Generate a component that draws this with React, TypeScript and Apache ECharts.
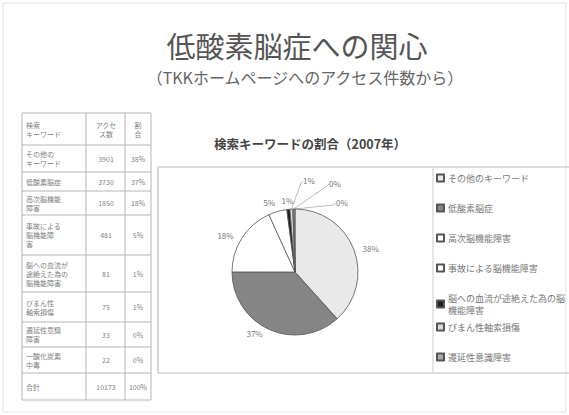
import React, { useEffect, useRef } from "react";
import * as echarts from "echarts";

// ---- data ----
const keywords = [
  "その他のキーワード",
  "低酸素脳症",
  "高次脳機能障害",
  "事故による脳機能障害",
  "脳への血流が途絶えた為の脳機能障害",
  "びまん性軸索損傷",
  "遷延性意識障害",
  "一酸化炭素中毒",
];
const accessCounts = [3901, 3730, 1850, 481, 81, 75, 33, 22];
const tableRowLabels = [
  "その他の\nキーワード",
  "低酸素脳症",
  "高次脳機能\n障害",
  "事故による\n脳機能障\n害",
  "脳への血流が\n途絶えた為の\n脳機能障害",
  "びまん性\n軸索損傷",
  "遷延性意識\n障害",
  "一酸化炭素\n中毒",
];
const tableHeader = ["検索\nキーワード", "アクセ\nス数", "割\n合"];
const totalLabel = "合計";
const sliceColors = ["#e9e9e9", "#858585", "#ffffff", "#ffffff", "#1e1e1e", "#dcdcdc", "#a8a8a8", "#c8c8c8"];

const FONT = '"Noto Sans CJK JP", "Noto Sans", sans-serif';

export default function App() {
  const ref = useRef<HTMLDivElement>(null);
  useEffect(() => {
    const chart = echarts.init(ref.current!, null, { renderer: "svg" });
    const total = accessCounts.reduce((a, b) => a + b, 0);
    const pct = (v: number) => Math.round((v / total) * 100) + "%";

    const CX = 295;
    const CY = 272;
    const R = 63;
    // mid angles of slices (clockwise from 12 o'clock), from the data
    const mids: number[] = [];
    let cum = 0;
    accessCounts.forEach((v) => {
      mids.push(((cum + v / 2) / total) * Math.PI * 2);
      cum += v;
    });
    // label offsets (relative to pie centre) for the tiny slices, placed to the upper right
    const smallLabelOffsets: Record<number, [number, number]> = {
      5: [14, -92],
      6: [40, -89],
      7: [47, -70],
    };

    // table geometry
    const rowLines = [113, 145, 172, 191, 215, 255, 292, 322, 347, 373, 400];
    const colLines = [22, 86, 125, 151];
    const colCenters = [0, 106, 138];
    const g: any[] = [];
    g.push({ type: "rect", shape: { x: 3, y: 3, width: 563, height: 409 }, style: { fill: "none", stroke: "#e2e2e2", lineWidth: 1 }, silent: true });
    rowLines.forEach((y) =>
      g.push({ type: "line", shape: { x1: colLines[0], y1: y, x2: colLines[3], y2: y }, style: { stroke: "#b5b5b5", lineWidth: 1 } })
    );
    colLines.forEach((x) =>
      g.push({ type: "line", shape: { x1: x, y1: rowLines[0], x2: x, y2: rowLines[rowLines.length - 1] }, style: { stroke: "#b5b5b5", lineWidth: 1 } })
    );
    const cellText = (txt: string, x: number, y: number, align: string) =>
      g.push({
        type: "text",
        x,
        y,
        style: { text: txt, fill: "#808080", font: `7px ${FONT}`, align, verticalAlign: "middle", lineHeight: 9 },
      });
    const rows = [
      [tableHeader[0], tableHeader[1], tableHeader[2]],
      ...tableRowLabels.map((l, i) => [l, String(accessCounts[i]), pct(accessCounts[i])]),
      [totalLabel, String(total), "100%"],
    ];
    rows.forEach((r, i) => {
      const cy = (rowLines[i] + rowLines[i + 1]) / 2;
      cellText(r[0], 26, cy, "left");
      cellText(r[1], colCenters[1], cy, "center");
      cellText(r[2], colCenters[2], cy, "center");
    });
    g.push({ type: "rect", shape: { x: 158, y: 167, width: 420, height: 206 }, style: { fill: "none", stroke: "#bbb", lineWidth: 1.2 } });
    g.push({ type: "line", shape: { x1: 433, y1: 167, x2: 433, y2: 373 }, style: { stroke: "#ccc", lineWidth: 1 } });

    const legendBase = {
      orient: "vertical",
      icon: "rect",
      itemWidth: 7,
      itemHeight: 7,
      itemGap: 20,
      padding: 0,
      left: 436,
      textStyle: { fontFamily: FONT, fontSize: 9, color: "#777", lineHeight: 10, padding: [0, 0, 0, -1] },
    };

    const data = keywords.map((name, i) => ({
      name,
      value: accessCounts[i],
      itemStyle: { color: sliceColors[i] },
      labelLine:
        i >= 5
          ? { show: true, length: 10, length2: 10, lineStyle: { color: "#aaa", width: 0.8 } }
          : { show: false, length: 4, length2: 0 },
    }));

    chart.setOption({
      animation: false,
      backgroundColor: "#fff",
      title: [
        {
          text: "低酸素脳症への関心",
          left: 297,
          top: 28,
          textAlign: "center",
          padding: 0,
          textStyle: { fontFamily: FONT, fontSize: 29, fontWeight: "normal", color: "#555", lineHeight: 34 },
        },
        {
          text: "（TKKホームページへのアクセス件数から）",
          left: 305,
          top: 67,
          textAlign: "center",
          padding: 0,
          textStyle: { fontFamily: FONT, fontSize: 16, fontWeight: "normal", color: "#666", lineHeight: 19 },
        },
        {
          text: "検索キーワードの割合（2007年）",
          left: 310,
          top: 135,
          textAlign: "center",
          padding: 0,
          textStyle: { fontFamily: FONT, fontSize: 12.5, fontWeight: "bold", color: "#444", lineHeight: 16 },
        },
      ],
      legend: [
        { ...legendBase, top: 173, data: keywords.slice(0, 4) },
        {
          ...legendBase,
          top: 292,
          data: keywords.slice(4, 5),
          formatter: (n: string) => n.slice(0, 13) + "\n" + n.slice(13),
          textStyle: { ...legendBase.textStyle, lineHeight: 12 },
        },
        { ...legendBase, top: 322, data: keywords.slice(5, 7) },
      ],
      series: [
        {
          type: "pie",
          center: [CX, CY],
          radius: R,
          startAngle: 90,
          clockwise: true,
          avoidLabelOverlap: false,
          itemStyle: { borderColor: "#555", borderWidth: 0.8 },
          label: {
            show: true,
            position: "outside",
            fontFamily: FONT,
            fontSize: 8,
            color: "#777",
            formatter: (p: any) => pct(p.value),
          },
          labelLayout: (params: any) => {
            const i = params.dataIndex;
            const a = mids[i];
            if (i === 3 || i === 4) {
              const d = R + 9;
              return {
                x: CX + d * Math.sin(a) - (i === 3 ? 6 : 0),
                y: CY - d * Math.cos(a),
                align: "center",
                verticalAlign: "middle",
              };
            }
            if (smallLabelOffsets[i]) {
              const [dx, dy] = smallLabelOffsets[i];
              const lx = CX + dx;
              const ly = CY + dy;
              const ex = CX + R * Math.sin(a);
              const ey = CY - R * Math.cos(a);
              return {
                x: lx,
                y: ly,
                align: "center",
                verticalAlign: "middle",
                labelLinePoints: [
                  [ex, ey],
                  [lx - 8, ly + 3],
                  [lx - 6, ly + 1],
                ],
              };
            }
            return {};
          },
          emphasis: { disabled: true },
          data,
        },
      ],
      graphic: g,
    });
    return () => chart.dispose();
  }, []);
  return (
    <div
      ref={ref}
      style={{ position: "fixed", left: 0, top: 0, width: 569, height: 415, background: "#fff" }}
    />
  );
}
